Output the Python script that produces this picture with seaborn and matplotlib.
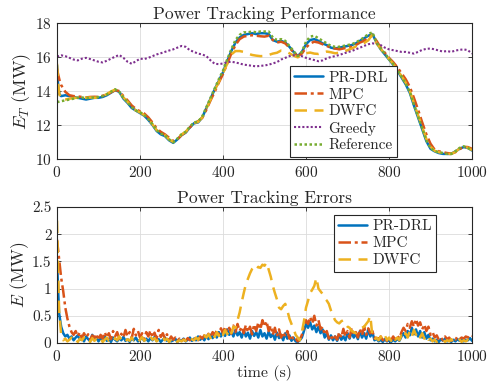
import numpy as np
import pandas as pd
import matplotlib
matplotlib.use("Agg")
import matplotlib.pyplot as plt
import seaborn as sns

# ---- data ---------------------------------------------------------------
# time stamps of the power trajectories (s)
t_power = [0, 3, 6] + list(range(10, 1001, 10))

ref_power = [13.35, 13.36, 13.38,
             13.4, 13.45, 13.5, 13.55, 13.6, 13.62, 13.58, 13.6, 13.62, 13.65,
             13.7, 13.8, 13.95, 14.1, 13.95, 13.6, 13.35, 13.05, 12.85, 12.75,
             12.6, 12.35, 12.05, 11.7, 11.5, 11.4, 11.15, 10.98, 11.2, 11.45,
             11.6, 11.9, 12.15, 12.2, 12.5, 13.05, 13.6, 14.15, 14.7, 15.2,
             15.85, 16.45, 17.0, 17.3, 17.45, 17.45, 17.5, 17.45, 17.5, 17.5,
             17.5, 17.15, 17.0, 17.05, 16.95, 16.65, 16.35, 16.05, 16.3, 16.9,
             17.2, 17.25, 17.1, 16.95, 16.8, 16.65, 16.6, 16.6, 16.65, 16.7,
             16.75, 16.85, 17.0, 17.15, 17.35, 17.45, 16.85, 16.5, 16.2, 15.9,
             15.6, 15.25, 14.85, 14.45, 13.95, 13.2, 12.5, 11.8, 11.1, 10.65,
             10.45, 10.4, 10.35, 10.3, 10.3, 10.45, 10.65, 10.75, 10.65, 10.5]

prdrl_power = [15.5, 14.2, 13.8,
               13.7, 13.75, 13.7, 13.65, 13.6, 13.55, 13.5, 13.55, 13.6, 13.6,
               13.65, 13.75, 13.9, 14.05, 13.95, 13.55, 13.3, 13.0, 12.85, 12.7,
               12.55, 12.3, 12.0, 11.65, 11.45, 11.35, 11.1, 10.95, 11.15, 11.4,
               11.55, 11.85, 12.1, 12.15, 12.45, 13.0, 13.55, 14.1, 14.6, 15.1,
               15.75, 16.35, 16.85, 17.15, 17.3, 17.35, 17.4, 17.35, 17.4, 17.4,
               17.35, 17.0, 16.9, 16.95, 16.85, 16.6, 16.3, 16.05, 16.3, 16.75,
               17.0, 17.05, 16.95, 16.8, 16.7, 16.55, 16.5, 16.55, 16.6, 16.65,
               16.7, 16.8, 16.95, 17.1, 17.25, 17.35, 16.85, 16.45, 16.15, 15.85,
               15.55, 15.2, 14.8, 14.4, 13.9, 13.15, 12.45, 11.75, 11.05, 10.6,
               10.45, 10.35, 10.3, 10.3, 10.3, 10.45, 10.6, 10.7, 10.65, 10.5]

mpc_power = [15.3, 14.95, 14.65,
             14.35, 13.95, 13.75, 13.7, 13.68, 13.65, 13.62, 13.65, 13.66, 13.65,
             13.72, 13.8, 13.92, 14.05, 14.0, 13.7, 13.45, 13.15, 12.95, 12.8,
             12.68, 12.45, 12.15, 11.8, 11.6, 11.45, 11.25, 11.05, 11.15, 11.4,
             11.58, 11.85, 12.1, 12.22, 12.42, 12.9, 13.45, 13.95, 14.5, 15.0,
             15.6, 16.2, 16.7, 17.05, 17.2, 17.25, 17.28, 17.25, 17.22, 17.2,
             17.25, 17.0, 16.85, 16.9, 16.8, 16.55, 16.28, 16.05, 16.2, 16.55,
             16.8, 16.9, 16.85, 16.75, 16.65, 16.55, 16.5, 16.45, 16.5, 16.55,
             16.6, 16.7, 16.85, 16.95, 17.15, 17.25, 16.95, 16.55, 16.25, 15.95,
             15.7, 15.4, 15.05, 14.7, 14.25, 13.6, 12.9, 12.15, 11.45, 10.9,
             10.55, 10.45, 10.4, 10.35, 10.32, 10.4, 10.58, 10.72, 10.7, 10.6]

dwfc_power = [15.6, 14.4, 13.8,
              13.5, 13.5, 13.55, 13.58, 13.62, 13.6, 13.6, 13.62, 13.6, 13.62,
              13.7, 13.82, 13.97, 14.08, 13.95, 13.62, 13.36, 13.06, 12.86, 12.74,
              12.58, 12.34, 12.04, 11.7, 11.5, 11.4, 11.15, 11.0, 11.2, 11.44,
              11.6, 11.88, 12.12, 12.18, 12.45, 12.98, 13.5, 14.05, 14.55, 15.05,
              15.6, 16.15, 16.35, 16.35, 16.3, 16.2, 16.12, 16.08, 16.05, 16.06,
              16.12, 16.2, 16.25, 16.38, 16.35, 16.22, 16.08, 15.98, 16.1, 16.22,
              16.26, 16.2, 16.18, 16.25, 16.32, 16.28, 16.22, 16.25, 16.3, 16.4,
              16.5, 16.62, 16.72, 16.82, 16.98, 17.32, 16.8, 16.48, 16.18, 15.88,
              15.6, 15.25, 14.88, 14.5, 14.0, 13.28, 12.58, 11.88, 11.18, 10.72,
              10.48, 10.4, 10.34, 10.3, 10.3, 10.42, 10.62, 10.74, 10.66, 10.52]

greedy_power = [16.05, 16.05, 16.08,
                16.1, 16.05, 15.95, 15.85, 15.8, 15.9, 15.95, 15.88, 15.8, 15.72,
                15.68, 15.78, 15.9, 16.02, 16.12, 15.95, 15.72, 15.6, 15.75, 15.9,
                15.88, 15.95, 16.05, 16.15, 16.22, 16.3, 16.38, 16.45, 16.55, 16.65,
                16.6, 16.4, 16.3, 16.2, 16.15, 16.05, 15.8, 15.6, 15.58, 15.62,
                15.7, 15.72, 15.68, 15.62, 15.55, 15.52, 15.48, 15.45, 15.48, 15.5,
                15.55, 15.62, 15.7, 15.85, 15.95, 16.05, 16.1, 16.1, 16.05, 15.95,
                15.88, 15.82, 15.75, 15.8, 15.92, 16.0, 16.05, 16.12, 16.2, 16.28,
                16.35, 16.45, 16.55, 16.65, 16.75, 16.8, 16.78, 16.7, 16.55, 16.45,
                16.4, 16.35, 16.3, 16.3, 16.25, 16.2, 16.3, 16.42, 16.48, 16.5,
                16.45, 16.38, 16.32, 16.35, 16.3, 16.38, 16.42, 16.45, 16.4, 16.2]

# time stamps of the tracking errors (s), every 5 s
t_error = list(range(0, 1001, 5))

prdrl_error = [
    1.5, 0.55, 0.3, 0.18, 0.12, 0.15, 0.08, 0.12, 0.05, 0.1, 0.14, 0.06, 0.1, 0.03, 0.12, 0.07, 0.04, 0.15, 0.06, 0.1,
    0.03, 0.09, 0.05, 0.12, 0.04, 0.08, 0.02, 0.1, 0.06, 0.03, 0.09, 0.05, 0.11, 0.04, 0.07, 0.02, 0.09, 0.05, 0.1, 0.03,
    0.06, 0.1, 0.04, 0.08, 0.03, 0.09, 0.05, 0.11, 0.04, 0.07, 0.02, 0.06, 0.1, 0.04, 0.07, 0.03, 0.05, 0.08, 0.02, 0.06,
    0.04, 0.08, 0.03, 0.06, 0.1, 0.04, 0.08, 0.05, 0.12, 0.06, 0.1, 0.05, 0.13, 0.07, 0.15, 0.09, 0.17, 0.1, 0.2, 0.12,
    0.22, 0.13, 0.25, 0.15, 0.21, 0.12, 0.24, 0.14, 0.2, 0.1, 0.23, 0.12, 0.19, 0.08, 0.22, 0.13, 0.2, 0.1, 0.24, 0.12,
    0.18, 0.08, 0.21, 0.11, 0.17, 0.06, 0.19, 0.09, 0.15, 0.05, 0.18, 0.08, 0.14, 0.04, 0.1, 0.03, 0.02, 0.05, 0.1, 0.22,
    0.35, 0.28, 0.38, 0.25, 0.32, 0.2, 0.3, 0.18, 0.25, 0.1, 0.18, 0.06, 0.14, 0.05, 0.12, 0.04, 0.15, 0.06, 0.12, 0.05,
    0.18, 0.08, 0.2, 0.1, 0.17, 0.07, 0.22, 0.1, 0.18, 0.08, 0.25, 0.12, 0.2, 0.05, 0.08, 0.03, 0.06, 0.02, 0.07, 0.03,
    0.05, 0.02, 0.06, 0.03, 0.08, 0.04, 0.12, 0.18, 0.1, 0.22, 0.14, 0.28, 0.16, 0.25, 0.12, 0.22, 0.1, 0.2, 0.08, 0.15,
    0.05, 0.08, 0.03, 0.06, 0.02, 0.07, 0.04, 0.08, 0.03, 0.05, 0.02, 0.06, 0.03, 0.07, 0.04, 0.08, 0.03, 0.06, 0.05, 0.09,
    0.04]

mpc_error = [
    1.9, 1.55, 1.2, 0.95, 0.65, 0.45, 0.3, 0.2, 0.15, 0.22, 0.12, 0.2, 0.08, 0.18, 0.1, 0.16, 0.06, 0.14, 0.09, 0.17,
    0.05, 0.15, 0.08, 0.2, 0.1, 0.18, 0.07, 0.22, 0.12, 0.2, 0.08, 0.17, 0.1, 0.24, 0.12, 0.2, 0.09, 0.26, 0.14, 0.22,
    0.1, 0.18, 0.07, 0.2, 0.12, 0.23, 0.1, 0.19, 0.08, 0.24, 0.11, 0.18, 0.08, 0.16, 0.05, 0.12, 0.06, 0.1, 0.04, 0.08,
    0.03, 0.07, 0.04, 0.09, 0.05, 0.08, 0.06, 0.1, 0.05, 0.12, 0.08, 0.14, 0.1, 0.17, 0.12, 0.2, 0.14, 0.24, 0.16, 0.27,
    0.18, 0.3, 0.2, 0.28, 0.17, 0.32, 0.2, 0.35, 0.22, 0.3, 0.18, 0.33, 0.2, 0.3, 0.16, 0.34, 0.22, 0.38, 0.25, 0.42,
    0.3, 0.4, 0.22, 0.32, 0.15, 0.28, 0.12, 0.25, 0.1, 0.2, 0.12, 0.22, 0.08, 0.15, 0.05, 0.08, 0.03, 0.06, 0.15, 0.3,
    0.42, 0.35, 0.48, 0.36, 0.5, 0.32, 0.42, 0.25, 0.3, 0.15, 0.22, 0.08, 0.15, 0.05, 0.12, 0.06, 0.2, 0.1, 0.26, 0.12,
    0.22, 0.1, 0.28, 0.15, 0.2, 0.1, 0.26, 0.14, 0.3, 0.15, 0.27, 0.18, 0.22, 0.08, 0.14, 0.06, 0.12, 0.05, 0.1, 0.04,
    0.1, 0.05, 0.12, 0.06, 0.14, 0.08, 0.2, 0.28, 0.22, 0.35, 0.28, 0.4, 0.3, 0.44, 0.32, 0.38, 0.25, 0.34, 0.22, 0.3,
    0.15, 0.2, 0.1, 0.14, 0.06, 0.1, 0.05, 0.12, 0.07, 0.1, 0.04, 0.09, 0.06, 0.12, 0.07, 0.1, 0.08, 0.12, 0.1, 0.15,
    0.13]

dwfc_error = [
    2.25, 0.6, 0.15, 0.05, 0.08, 0.03, 0.06, 0.1, 0.04, 0.07, 0.02, 0.08, 0.05, 0.1, 0.03, 0.06, 0.02, 0.09, 0.04, 0.07,
    0.03, 0.08, 0.02, 0.06, 0.1, 0.04, 0.07, 0.03, 0.09, 0.05, 0.12, 0.06, 0.09, 0.03, 0.07, 0.04, 0.1, 0.05, 0.08, 0.02,
    0.06, 0.11, 0.04, 0.08, 0.05, 0.12, 0.06, 0.09, 0.03, 0.07, 0.04, 0.1, 0.05, 0.08, 0.02, 0.06, 0.03, 0.07, 0.02, 0.05,
    0.03, 0.06, 0.04, 0.08, 0.03, 0.07, 0.05, 0.1, 0.06, 0.12, 0.08, 0.14, 0.1, 0.16, 0.09, 0.18, 0.11, 0.2, 0.13, 0.22,
    0.15, 0.24, 0.16, 0.26, 0.18, 0.3, 0.28, 0.42, 0.56, 0.75, 0.92, 1.08, 1.18, 1.28, 1.36, 1.4, 1.35, 1.4, 1.38, 1.44,
    1.42, 1.48, 1.35, 1.22, 1.05, 0.92, 0.8, 0.65, 0.62, 0.68, 0.72, 0.6, 0.45, 0.35, 0.26, 0.15, 0.1, 0.05, 0.2, 0.4,
    0.65, 0.78, 0.92, 0.98, 1.05, 1.2, 1.0, 0.95, 0.9, 0.82, 0.78, 0.72, 0.6, 0.5, 0.42, 0.38, 0.36, 0.4, 0.42, 0.35,
    0.3, 0.28, 0.22, 0.2, 0.18, 0.22, 0.25, 0.28, 0.3, 0.35, 0.4, 0.5, 0.12, 0.06, 0.1, 0.05, 0.12, 0.06, 0.14, 0.05,
    0.1, 0.04, 0.12, 0.06, 0.1, 0.05, 0.14, 0.08, 0.18, 0.1, 0.22, 0.12, 0.24, 0.15, 0.2, 0.1, 0.18, 0.08, 0.14, 0.06,
    0.08, 0.03, 0.06, 0.02, 0.05, 0.03, 0.06, 0.02, 0.05, 0.03, 0.07, 0.02, 0.05, 0.03, 0.06, 0.02, 0.05, 0.03, 0.06, 0.04,
    0.05]

x_ticks = [0, 200, 400, 600, 800, 1000]
power_ticks = [10, 12, 14, 16, 18]
error_ticks = [0, 0.5, 1, 1.5, 2, 2.5]
error_tick_labels = ["0", "0.5", "1", "1.5", "2", "2.5"]

# ---- style ----------------------------------------------------------------
sns.set_theme(style="ticks")
plt.rcParams["font.family"] = ["cmr10", "DejaVu Serif"]
plt.rcParams["mathtext.fontset"] = "cm"
plt.rcParams["axes.unicode_minus"] = False
plt.rcParams["axes.formatter.use_mathtext"] = True

BLUE, ORANGE, YELLOW, PURPLE, GREEN = "#0072BD", "#D95319", "#EDB120", "#7E2F8E", "#77AC30"
DASHDOT = (0, (5, 1.5, 1.2, 1.5))
DASHED = (0, (5, 3))
DOTTED = (0, (1, 1))

power_df = pd.DataFrame({"t": t_power, "ref": ref_power, "prdrl": prdrl_power,
                         "mpc": mpc_power, "dwfc": dwfc_power, "greedy": greedy_power})
error_df = pd.DataFrame({"t": t_error, "prdrl": prdrl_error,
                         "mpc": mpc_error, "dwfc": dwfc_error})

fig = plt.figure(figsize=(4.94, 3.86), dpi=100)
ax1 = fig.add_axes([0.1154, 0.5881, 0.8401, 0.3523])
ax2 = fig.add_axes([0.1154, 0.1114, 0.8401, 0.3523])

# ---- power tracking ------------------------------------------------------
sns.lineplot(data=power_df, x="t", y="prdrl", ax=ax1, color=BLUE, lw=1.8, label="PR-DRL")
sns.lineplot(data=power_df, x="t", y="mpc", ax=ax1, color=ORANGE, lw=1.8, linestyle=DASHDOT, label="MPC")
sns.lineplot(data=power_df, x="t", y="dwfc", ax=ax1, color=YELLOW, lw=1.8, linestyle=DASHED, label="DWFC")
sns.lineplot(data=power_df, x="t", y="greedy", ax=ax1, color=PURPLE, lw=1.5, linestyle=DOTTED, label="Greedy")
sns.lineplot(data=power_df, x="t", y="ref", ax=ax1, color=GREEN, lw=1.8, linestyle=DOTTED, label="Reference")

# ---- tracking errors -----------------------------------------------------
sns.lineplot(data=error_df, x="t", y="prdrl", ax=ax2, color=BLUE, lw=1.8, label="PR-DRL")
sns.lineplot(data=error_df, x="t", y="mpc", ax=ax2, color=ORANGE, lw=1.8, linestyle=DASHDOT, label="MPC")
sns.lineplot(data=error_df, x="t", y="dwfc", ax=ax2, color=YELLOW, lw=1.8, linestyle=DASHED, label="DWFC")

for ax in (ax1, ax2):
    ax.set_xlim(0, 1000)
    ax.set_xticks(x_ticks)
    ax.grid(True, color="#dcdcdc", lw=0.6)
    ax.set_axisbelow(True)
    ax.tick_params(direction="in", top=True, right=True, length=3, width=0.6,
                   labelsize=11, colors="#262626", pad=4)
    for s in ax.spines.values():
        s.set_color("#262626")
        s.set_linewidth(0.8)

ax1.set_ylim(10, 18)
ax1.set_yticks(power_ticks)
ax1.set_title("Power Tracking Performance", fontsize=12.5, pad=3)
ax1.set_xlabel("")
ax1.set_ylabel(r"$E_T$ (MW)", fontsize=13, labelpad=1)

ax2.set_ylim(0, 2.5)
ax2.set_yticks(error_ticks)
ax2.set_yticklabels(error_tick_labels)
ax2.set_title("Power Tracking Errors", fontsize=12.5, pad=3)
ax2.set_xlabel("time (s)", fontsize=11.5, labelpad=1)
ax2.set_ylabel(r"$E$ (MW)", fontsize=12.5, labelpad=1)

legend_kw = dict(frameon=True, fancybox=False, framealpha=1, edgecolor="#262626",
                 fontsize=11, handlelength=1.9, handletextpad=0.3,
                 borderpad=0.3, labelspacing=0.2, borderaxespad=0)
lg1 = ax1.legend(loc="lower left", bbox_to_anchor=(0.561, 0.015), **legend_kw)
lg2 = ax2.legend(loc="upper left", bbox_to_anchor=(0.667, 0.94), **legend_kw)
for lg in (lg1, lg2):
    lg.get_frame().set_linewidth(0.8)

fig.savefig("out.png", dpi=100)
